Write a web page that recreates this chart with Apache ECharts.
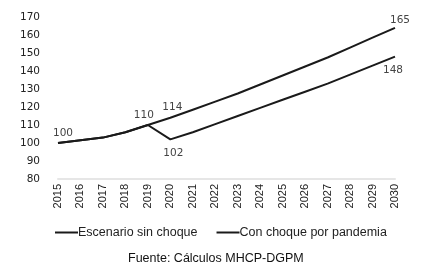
<!DOCTYPE html>
<html><head><meta charset="utf-8">
<script src="https://cdn.jsdelivr.net/npm/echarts@6/dist/echarts.min.js"></script>
<style>html,body{margin:0;padding:0;background:#fff}#c{width:423px;height:267px}</style>
</head><body><div id="c"></div>
<script>
const years = ['2015','2016','2017','2018','2019','2020','2021','2022','2023','2024','2025','2026','2027','2028','2029','2030'];
const sinChoque = [100, 101.5, 103, 106, 110, 114, 118.5, 123, 127.5, 132.5, 137.5, 142.5, 147.5, 153, 158.5, 164];
const conChoque = [100, 101.5, 103, 106, 110, 102, 106, 110.5, 115, 119.5, 124, 128.5, 133, 138, 143, 148];
const sinLabelText = {0: '100', 4: '110', 5: '114', 15: '165'};
const conLabelText = {5: '102', 15: '148'};
const yTicks = {min: 80, max: 170, interval: 10};
const seriesNames = ['Escenario sin choque', 'Con choque por pandemia'];
const sourceText = 'Fuente: Cálculos MHCP-DGPM';

const lblStyle = {show: true, fontSize: 10.5, color: '#444', fontFamily: 'DejaVu Sans'};
function withLabels(arr, texts, pos) {
  return arr.map((v, i) => {
    if (!texts[i]) return v;
    return {value: v, label: Object.assign({}, lblStyle, pos[i], {formatter: texts[i]})};
  });
}
const sinPos = {0: {position: 'top', offset: [5, 1]}, 4: {position: 'top', offset: [-4, 1]}, 5: {position: 'top', offset: [2, 0]}, 15: {position: 'top', offset: [5, 3]}};
const conPos = {5: {position: 'bottom', offset: [3, 3]}, 15: {position: 'bottom', offset: [-2, 3]}};

const chart = echarts.init(document.getElementById('c'));
chart.setOption({
  animation: false,
  backgroundColor: '#fff',
  textStyle: {fontFamily: 'Liberation Sans'},
  grid: {left: 58, right: 28, top: 17, bottom: 88},
  xAxis: {
    type: 'category', data: years, boundaryGap: false,
    axisLine: {lineStyle: {color: '#e6e6e6', width: 2}},
    axisTick: {show: false},
    axisLabel: {rotate: 90, fontSize: 11, color: '#222', margin: 5, fontFamily: 'Liberation Sans'}
  },
  yAxis: {
    type: 'value', min: yTicks.min, max: yTicks.max, interval: yTicks.interval,
    axisLine: {show: false}, axisTick: {show: false}, splitLine: {show: false},
    axisLabel: {fontSize: 10.5, color: '#222', margin: 18, fontFamily: 'DejaVu Sans'}
  },
  legend: {
    left: 50, top: 221, itemWidth: 23, itemHeight: 2, itemGap: 19,
    textStyle: {fontSize: 12.5, color: '#222', fontFamily: 'Liberation Sans', padding: [0, 0, 0, -5]},
    icon: 'rect',
    data: seriesNames
  },
  graphic: [{type: 'text', left: 128, top: 252, style: {text: sourceText, fontSize: 12.5, fill: '#111', fontFamily: 'Liberation Sans'}}],
  series: [
    {name: seriesNames[0], type: 'line', data: withLabels(sinChoque, sinLabelText, sinPos), symbol: 'circle', symbolSize: 0, showSymbol: true, lineStyle: {color: '#1a1a1a', width: 2}, itemStyle: {color: '#1a1a1a'}, z: 3},
    {name: seriesNames[1], type: 'line', data: withLabels(conChoque, conLabelText, conPos), symbol: 'circle', symbolSize: 0, showSymbol: true, lineStyle: {color: '#1a1a1a', width: 2}, itemStyle: {color: '#1a1a1a'}, z: 2}
  ]
});
</script></body></html>
